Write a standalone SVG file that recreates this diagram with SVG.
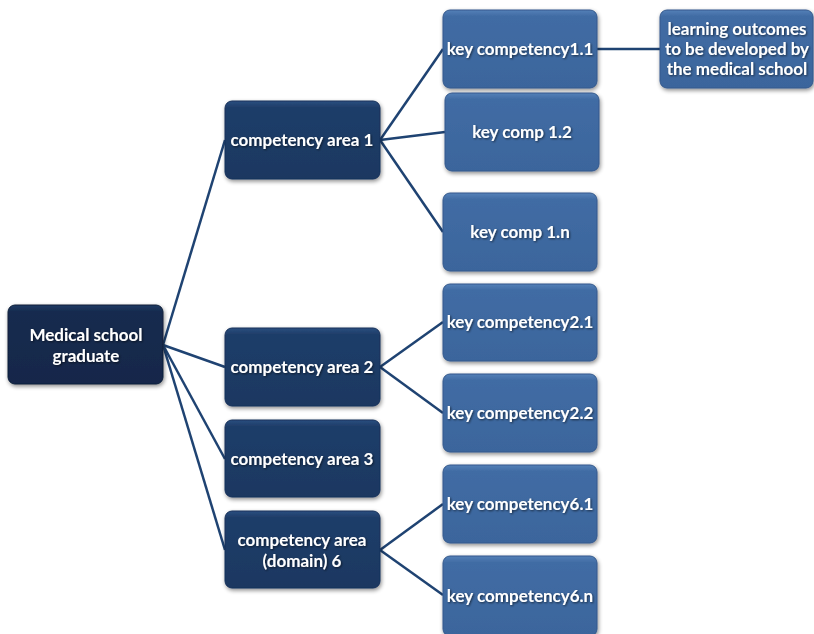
<svg xmlns="http://www.w3.org/2000/svg" width="814" height="634" viewBox="0 0 814 634">
<defs>
<linearGradient id="gRoot" x1="0" y1="0" x2="0" y2="1">
<stop offset="0" stop-color="#203a63"/><stop offset="0.08" stop-color="#172c4f"/><stop offset="1" stop-color="#14274a"/>
</linearGradient>
<linearGradient id="gArea" x1="0" y1="0" x2="0" y2="1">
<stop offset="0" stop-color="#2b4f80"/><stop offset="0.08" stop-color="#1f3d69"/><stop offset="1" stop-color="#1b3861"/>
</linearGradient>
<linearGradient id="gKey" x1="0" y1="0" x2="0" y2="1">
<stop offset="0" stop-color="#5580b8"/><stop offset="0.08" stop-color="#416ca4"/><stop offset="1" stop-color="#3b659c"/>
</linearGradient>
<filter id="sh" x="-10%" y="-10%" width="125%" height="130%">
<feGaussianBlur in="SourceAlpha" stdDeviation="2"/>
<feOffset dx="1" dy="2" result="b"/>
<feComponentTransfer><feFuncA type="linear" slope="0.45"/></feComponentTransfer>
<feMerge><feMergeNode/><feMergeNode in="SourceGraphic"/></feMerge>
</filter>
<filter id="ts" x="-5%" y="-20%" width="110%" height="150%">
<feGaussianBlur in="SourceAlpha" stdDeviation="0.8"/>
<feOffset dx="1" dy="1"/>
<feComponentTransfer><feFuncA type="linear" slope="0.6"/></feComponentTransfer>
<feMerge><feMergeNode/><feMergeNode in="SourceGraphic"/></feMerge>
</filter>
</defs>
<style>
.root{fill:url(#gRoot);stroke:#0f1f3a;stroke-width:1}
.area{fill:url(#gArea);stroke:#17305a;stroke-width:1}
.key{fill:url(#gKey);stroke:#34598c;stroke-width:1}
rect{filter:url(#sh)}
text{font-family:Lato,"Open Sans","Liberation Sans",sans-serif;font-weight:bold;font-size:17px;fill:#ffffff;text-anchor:middle;filter:url(#ts)}
.c line{stroke:#1f4372;stroke-width:2.5}
</style>
<rect width="814" height="634" fill="#ffffff" style="filter:none"/>
<g class="c" id="connectors">
<line x1="163" y1="345" x2="225" y2="140"/>
<line x1="163" y1="345" x2="225" y2="367"/>
<line x1="163" y1="345" x2="225" y2="459"/>
<line x1="163" y1="345" x2="225" y2="550"/>
<line x1="380" y1="140" x2="443" y2="49"/>
<line x1="380" y1="140" x2="445" y2="132"/>
<line x1="380" y1="140" x2="443" y2="232"/>
<line x1="597" y1="49" x2="660" y2="49"/>
<line x1="380" y1="367" x2="443" y2="322"/>
<line x1="380" y1="367" x2="443" y2="413"/>
<line x1="380" y1="550" x2="443" y2="504"/>
<line x1="380" y1="550" x2="443" y2="595"/>
</g>
<g id="root"><rect class="root" x="8" y="305" width="155" height="79" rx="7"/>
<text x="86" y="341">Medical school</text><text x="86" y="362">graduate</text></g>
<g id="area1"><rect class="area" x="225" y="101" width="155" height="78" rx="7"/><text x="302" y="146">competency area 1</text></g>
<g id="area2"><rect class="area" x="225" y="328" width="155" height="78" rx="7"/><text x="302" y="373">competency area 2</text></g>
<g id="area3"><rect class="area" x="225" y="420" width="155" height="77" rx="7"/><text x="302" y="465">competency area 3</text></g>
<g id="area6"><rect class="area" x="225" y="511" width="155" height="77" rx="7"/><text x="302" y="546">competency area</text><text x="302" y="567">(domain) 6</text></g>
<g id="key11"><rect class="key" x="443" y="10" width="154" height="78" rx="7"/><text x="520" y="55">key competency1.1</text></g>
<g id="key12"><rect class="key" x="445" y="93" width="154" height="78" rx="7"/><text x="522" y="138">key comp 1.2</text></g>
<g id="key1n"><rect class="key" x="443" y="193" width="154" height="78" rx="7"/><text x="520" y="238">key comp 1.n</text></g>
<g id="key21"><rect class="key" x="443" y="284" width="154" height="77" rx="7"/><text x="520" y="328">key competency2.1</text></g>
<g id="key22"><rect class="key" x="443" y="374" width="154" height="78" rx="7"/><text x="520" y="419">key competency2.2</text></g>
<g id="key61"><rect class="key" x="443" y="465" width="154" height="78" rx="7"/><text x="520" y="510">key competency6.1</text></g>
<g id="key6n"><rect class="key" x="443" y="556" width="154" height="80" rx="7"/><text x="520" y="602">key competency6.n</text></g>
<g id="outcomes"><rect class="key" x="660" y="10" width="153" height="78" rx="7"/>
<text x="737" y="35">learning outcomes</text><text x="737" y="55">to be developed by</text><text x="737" y="75">the medical school</text></g>
</svg>
